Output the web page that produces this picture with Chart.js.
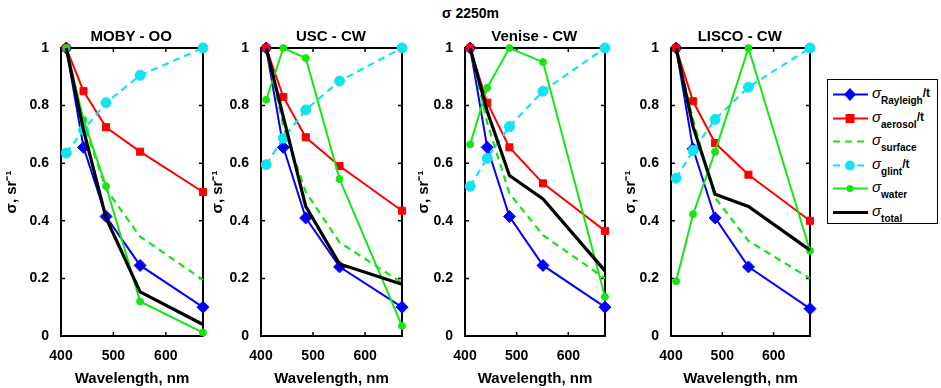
<!DOCTYPE html>
<html>
<head>
<meta charset="utf-8">
<script src="https://cdn.jsdelivr.net/npm/chart.js@4/dist/chart.umd.min.js"></script>
<style>
  body { margin: 0; background: #fff; }
  #wrap { position: relative; width: 941px; height: 388px; background: #fff; font-family: 'Liberation Sans', Arial, sans-serif; font-weight: bold; color: #000; }
  .ttl { position: absolute; text-align: center; font-size: 15px; white-space: nowrap; }
  canvas { position: absolute; }
  #legend { position: absolute; left: 827px; top: 79px; width: 109px; height: 143px; border: 1.5px solid #000; background: #fff; }
  .row { position: absolute; left: 4px; height: 20px; white-space: nowrap; }
  .row svg { position: absolute; left: 0; top: 0; }
  .row .lbl { position: absolute; left: 40px; top: 0; font-size: 15px; line-height: 16px; }
  .row .sig { font-style: italic; font-weight: normal; }
  .row sub { font-size: 10px; vertical-align: -6px; }
  .row sup { font-size: 12px; vertical-align: 1px; }
</style>
</head>
<body>
<div id="wrap">
  <div class="ttl" style="left:0;width:941px;top:5px;font-size:14px">σ 2250m</div>
  <div id="legend"></div>
</div>
<script>
// wavelengths (nm) and normalised sigma values
const wavelengths = [410, 443, 486, 551, 671];
const sites = ['MOBY - OO', 'USC - CW', 'Venise - CW', 'LISCO - CW'];
const yTicks = [0, 0.2, 0.4, 0.6, 0.8, 1];
const xTicks = [400, 500, 600];

const rayleigh = [
  [1, 0.655, 0.415, 0.245, 0.10],
  [1, 0.655, 0.41, 0.24, 0.10],
  [1, 0.655, 0.415, 0.245, 0.10],
  [1, 0.65, 0.41, 0.24, 0.095]
];
const aerosol = [
  [1, 0.85, 0.725, 0.64, 0.50],
  [1, 0.83, 0.69, 0.59, 0.435],
  [1, 0.81, 0.655, 0.53, 0.365],
  [1, 0.815, 0.67, 0.56, 0.40]
];
const surface = [
  [1, 0.74, 0.51, 0.345, 0.195],
  [1, 0.73, 0.5, 0.325, 0.185],
  [1, 0.74, 0.495, 0.35, 0.2],
  [1, 0.75, 0.48, 0.33, 0.2]
];
const glint = [
  [0.635, 0.715, 0.81, 0.905, 1],
  [0.595, 0.687, 0.785, 0.885, 1],
  [0.52, 0.617, 0.727, 0.85, 1],
  [0.548, 0.644, 0.752, 0.864, 1]
];
const water = [
  [1, 0.75, 0.52, 0.12, 0.012],
  [0.82, 1, 0.965, 0.545, 0.035],
  [0.665, 0.862, 1, 0.951, 0.136],
  [0.19, 0.423, 0.64, 1, 0.296]
];
const total = [
  [1, 0.715, 0.41, 0.153, 0.04],
  [1, 0.76, 0.45, 0.25, 0.18],
  [1, 0.78, 0.557, 0.476, 0.226],
  [1, 0.727, 0.492, 0.45, 0.298]
];

// plot box positions on the page
const plotLeft = [60.5, 260.5, 464.5, 670.5];
const plotRight = [202, 401.5, 604, 809];
const yTitleShift = [2, 8, 10, 11];

const BLUE = '#0000ff', RED = '#ff0000', GREEN = '#14e614', CYAN = '#10e4f0', BLACK = '#000000';
const FONT = "'Liberation Sans', Arial, sans-serif";

const series = [
  { name: 'Rayleigh', sup: '/t', data: rayleigh, color: BLUE, width: 2, dash: [], style: 'rectRot', r: 6 },
  { name: 'aerosol', sup: '/t', data: aerosol, color: RED, width: 2, dash: [], style: 'rect', r: 5 },
  { name: 'surface', sup: '', data: surface, color: GREEN, width: 2.2, dash: [7, 5], style: 'circle', r: 0 },
  { name: 'glint', sup: '/t', data: glint, color: CYAN, width: 2.2, dash: [7, 5], style: 'circle', r: 5 },
  { name: 'water', sup: '', data: water, color: GREEN, width: 2, dash: [], style: 'circle', r: 3.5 },
  { name: 'total', sup: '', data: total, color: BLACK, width: 3.2, dash: [], style: 'circle', r: 0 }
];

// box around the plot area with inward ticks on all four sides
const boxPlugin = {
  id: 'box',
  beforeDatasetsDraw(chart) {
    const { ctx, chartArea: a, scales: { x, y } } = chart;
    ctx.save();
    ctx.strokeStyle = '#000';
    ctx.lineWidth = 1.5;
    ctx.beginPath();
    x.ticks.forEach(t => {
      const px = x.getPixelForValue(t.value);
      ctx.moveTo(px, a.bottom); ctx.lineTo(px, a.bottom - 4);
      ctx.moveTo(px, a.top); ctx.lineTo(px, a.top + 4);
    });
    y.ticks.forEach(t => {
      const py = y.getPixelForValue(t.value);
      ctx.moveTo(a.left, py); ctx.lineTo(a.left + 4, py);
      ctx.moveTo(a.right, py); ctx.lineTo(a.right - 4, py);
    });
    ctx.stroke();
    ctx.lineWidth = 2;
    ctx.strokeRect(a.left, a.top, a.right - a.left, a.bottom - a.top);
    ctx.restore();
  }
};

const wrap = document.getElementById('wrap');

sites.forEach((site, i) => {
  const w = plotRight[i] - plotLeft[i];
  const cv = document.createElement('canvas');
  const cw = Math.round(w + 60 + 12);
  cv.width = cw; cv.height = 368;
  cv.style.left = (plotLeft[i] - 60) + 'px';
  cv.style.top = '20px';
  cv.style.width = cw + 'px';
  cv.style.height = '368px';
  wrap.appendChild(cv);

  const t = document.createElement('div');
  t.className = 'ttl';
  t.style.left = plotLeft[i] + 'px';
  t.style.width = w + 'px';
  t.style.top = '27px';
  t.textContent = site;
  wrap.appendChild(t);

  new Chart(cv.getContext('2d'), {
    type: 'line',
    data: {
      labels: wavelengths,
      datasets: series.map((s, k) => ({
        label: s.name,
        data: wavelengths.map((wl, j) => ({ x: wl, y: s.data[i][j] })),
        borderColor: s.color,
        backgroundColor: s.color,
        borderWidth: s.width,
        borderDash: s.dash,
        pointStyle: s.style,
        pointRadius: s.r,
        pointBorderWidth: 1,
        pointBorderColor: s.color,
        pointBackgroundColor: s.color,
        tension: 0,
        clip: false,
        order: series.length - k
      }))
    },
    options: {
      responsive: false,
      animation: false,
      devicePixelRatio: 1,
      layout: { padding: { left: 0, right: 12, top: 28, bottom: 0 } },
      plugins: { legend: { display: false }, tooltip: { enabled: false } },
      scales: {
        x: {
          type: 'linear',
          min: 400,
          max: 671,
          afterBuildTicks: sc => { sc.ticks = xTicks.map(v => ({ value: v })); },
          afterFit: sc => { sc.height = 52; },
          grid: { display: false },
          border: { display: false },
          ticks: { color: '#000', font: { family: FONT, size: 14, weight: 'bold' }, padding: 4, maxRotation: 0 },
          title: { display: true, text: 'Wavelength, nm', color: '#000', font: { family: FONT, size: 15, weight: 'bold' }, padding: { top: 1, bottom: 0 } }
        },
        y: {
          min: 0,
          max: 1,
          afterBuildTicks: sc => { sc.ticks = yTicks.map(v => ({ value: v })); },
          afterFit: sc => { sc.width = 60; },
          grid: { display: false },
          border: { display: false },
          ticks: { color: '#000', font: { family: FONT, size: 14, weight: 'bold' }, padding: 4, callback: v => String(v) },
          title: { display: true, text: 'σ, sr⁻¹', color: '#000', font: { family: FONT, size: 15, weight: 'bold' }, padding: { top: yTitleShift[i], bottom: 0 } }
        }
      }
    },
    plugins: [boxPlugin]
  });
});

// legend with subscripted labels
const legend = document.getElementById('legend');
series.forEach((s, k) => {
  const row = document.createElement('div');
  row.className = 'row';
  row.style.top = (5 + k * 23.6) + 'px';
  let marker = '';
  if (s.r > 0) {
    if (s.style === 'rectRot') marker = `<polygon points="18,3 24,9.5 18,16 12,9.5" fill="${s.color}"/>`;
    else if (s.style === 'rect') marker = `<rect x="13.5" y="5" width="9" height="9" fill="${s.color}"/>`;
    else marker = `<circle cx="18" cy="9.5" r="${s.r}" fill="${s.color}"/>`;
  }
  const dash = s.dash.length ? `stroke-dasharray="${s.dash.join(' ')}"` : '';
  row.innerHTML = `<svg width="38" height="20"><line x1="1" y1="9.5" x2="36" y2="9.5" stroke="${s.color}" stroke-width="${s.width}" ${dash}/>${marker}</svg>` +
    `<span class="lbl"><span class="sig">σ</span><sub>${s.name}</sub>${s.sup ? '<sup>' + s.sup + '</sup>' : ''}</span>`;
  legend.appendChild(row);
});
</script>
</body>
</html>
